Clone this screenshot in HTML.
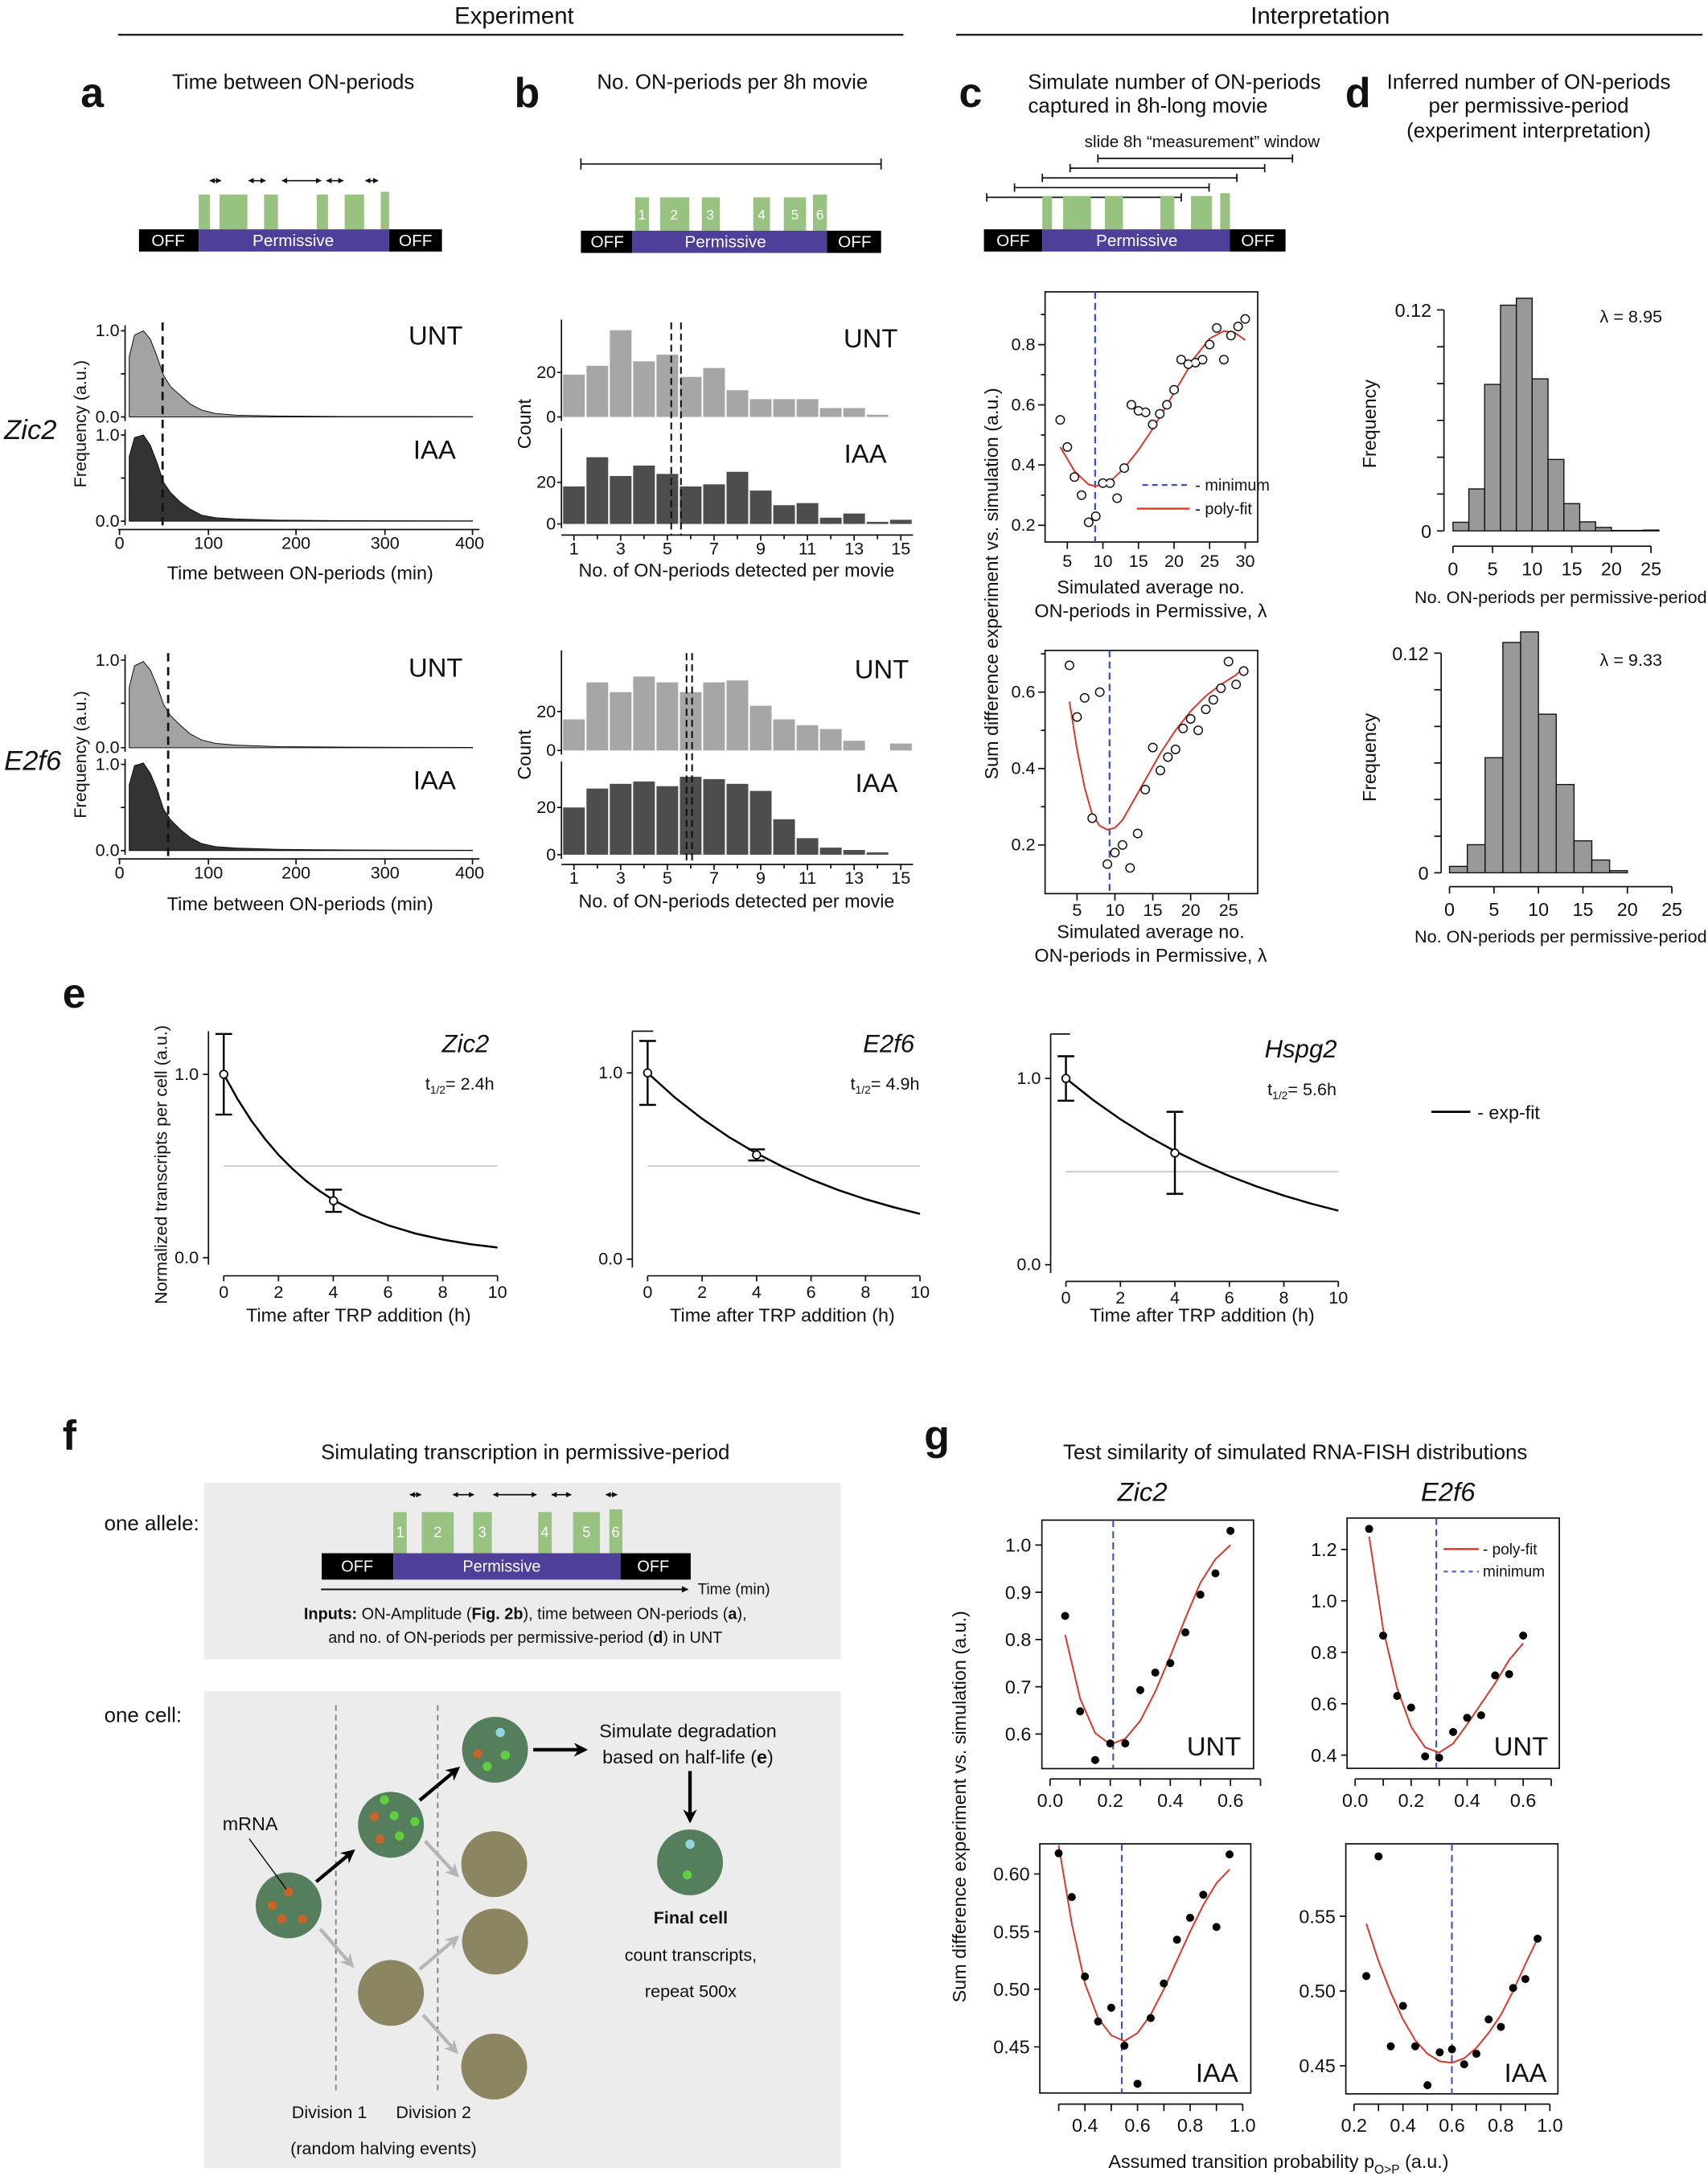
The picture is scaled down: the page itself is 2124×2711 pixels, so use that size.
<!DOCTYPE html>
<html><head><meta charset="utf-8"><style>
html,body{margin:0;padding:0;background:#fff}
svg{display:block}
text{font-family:"Liberation Sans",Arial,sans-serif;fill:#111}
.t{font-size:15px}.s{font-size:12.5px}.m{font-size:13.5px}.L{font-size:30px;font-weight:bold}
.ns{vector-effect:non-scaling-stroke}
</style></head><body>
<svg width="2124" height="2711" viewBox="0 0 1229 1568.6" preserveAspectRatio="none" xmlns="http://www.w3.org/2000/svg">
<defs>
<marker id="ah" viewBox="0 0 10 10" refX="9" refY="5" markerWidth="4" markerHeight="4" orient="auto-start-reverse"><path d="M0,0 L10,5 L0,10 z" fill="#111"/></marker>
<marker id="ab" viewBox="0 0 10 10" refX="8" refY="5" markerWidth="4" markerHeight="4" orient="auto"><path d="M0,0 L10,5 L0,10 L3,5 z" fill="#000"/></marker>
<marker id="ag" viewBox="0 0 10 10" refX="8" refY="5" markerWidth="4" markerHeight="4" orient="auto"><path d="M0,0 L10,5 L0,10 L3,5 z" fill="#b5b5b5"/></marker>
</defs>

<!-- Header -->
<text x="370" y="17" text-anchor="middle" style="font-size:17px">Experiment</text>
<line x1="85" y1="25" x2="650" y2="25" stroke="#111" stroke-width="1.3"/>
<text x="950" y="17" text-anchor="middle" style="font-size:17px">Interpretation</text>
<line x1="688" y1="25" x2="1225" y2="25" stroke="#111" stroke-width="1.3"/>

<text x="58" y="77" class="L">a</text>
<text x="370" y="77" class="L">b</text>
<text x="690" y="77" class="L">c</text>
<text x="968" y="77" class="L">d</text>
<text x="211" y="64" text-anchor="middle" class="t">Time between ON-periods</text>
<text x="527" y="64" text-anchor="middle" class="t">No. ON-periods per 8h movie</text>
<text x="845" y="64" text-anchor="middle" class="t">Simulate number of ON-periods</text>
<text x="826" y="81" text-anchor="middle" class="t">captured in 8h-long movie</text>
<text x="1100" y="64" text-anchor="middle" class="t">Inferred number of ON-periods</text>
<text x="1100" y="81" text-anchor="middle" class="t">per permissive-period</text>
<text x="1100" y="99" text-anchor="middle" class="t">(experiment interpretation)</text>

<!-- diagram a -->
<g fill="#97c27f"><rect x="143" y="140" width="8" height="25"/><rect x="158" y="140" width="20" height="25"/><rect x="190" y="140" width="10" height="25"/><rect x="228" y="140" width="8" height="25"/><rect x="248" y="140" width="14" height="25"/><rect x="274" y="138" width="6" height="27"/></g>
<rect x="100" y="165" width="43" height="16" fill="#000"/><rect x="143" y="165" width="137" height="16" fill="#4f3f9b"/><rect x="280" y="165" width="38" height="16" fill="#000"/>
<text x="121" y="177" text-anchor="middle" style="fill:#fff;font-size:12px">OFF</text>
<text x="211" y="177" text-anchor="middle" style="fill:#fff;font-size:12px">Permissive</text>
<text x="299" y="177" text-anchor="middle" style="fill:#fff;font-size:12px">OFF</text>
<g stroke="#111" stroke-width="1" marker-start="url(#ah)" marker-end="url(#ah)"><line x1="151" y1="130" x2="159" y2="130"/><line x1="179" y1="130" x2="191" y2="130"/><line x1="203" y1="130" x2="231" y2="130"/><line x1="235" y1="130" x2="247" y2="130"/><line x1="263" y1="130" x2="272" y2="130"/></g>

<!-- diagram b -->
<line x1="418" y1="118" x2="634" y2="118" stroke="#111"/><line x1="418" y1="114" x2="418" y2="122" stroke="#111"/><line x1="634" y1="114" x2="634" y2="122" stroke="#111"/>
<g fill="#97c27f"><rect x="457" y="142" width="10" height="24"/><rect x="475" y="142" width="21" height="24"/><rect x="505" y="142" width="13" height="24"/><rect x="542" y="142" width="12" height="24"/><rect x="564" y="142" width="16" height="24"/><rect x="585" y="140" width="10" height="26"/></g>
<g><text x="462" y="158" text-anchor="middle" style="fill:#fff;font-size:10px">1</text><text x="485" y="158" text-anchor="middle" style="fill:#fff;font-size:10px">2</text><text x="511" y="158" text-anchor="middle" style="fill:#fff;font-size:10px">3</text><text x="548" y="158" text-anchor="middle" style="fill:#fff;font-size:10px">4</text><text x="572" y="158" text-anchor="middle" style="fill:#fff;font-size:10px">5</text><text x="590" y="158" text-anchor="middle" style="fill:#fff;font-size:10px">6</text></g>
<rect x="418" y="166" width="37" height="16" fill="#000"/><rect x="455" y="166" width="140" height="16" fill="#4f3f9b"/><rect x="595" y="166" width="39" height="16" fill="#000"/>
<text x="437" y="178" text-anchor="middle" style="fill:#fff;font-size:12px">OFF</text>
<text x="522" y="178" text-anchor="middle" style="fill:#fff;font-size:12px">Permissive</text>
<text x="615" y="178" text-anchor="middle" style="fill:#fff;font-size:12px">OFF</text>

<!-- diagram c -->
<text x="865" y="106" text-anchor="middle" style="font-size:12px">slide 8h “measurement” window</text>
<g stroke="#111" stroke-width="1">
<path d="M790 111V117M790 114H930M930 111V117"/>
<path d="M770 118V124M770 121H910M910 118V124"/>
<path d="M750 125V131M750 128H890M890 125V131"/>
<path d="M730 132V138M730 135H870M870 132V138"/>
<path d="M710 139V145M710 142H850M850 139V145"/>
</g>
<g fill="#97c27f"><rect x="750" y="141" width="7" height="24"/><rect x="765" y="141" width="20" height="24"/><rect x="795" y="141" width="13" height="24"/><rect x="835" y="141" width="10" height="24"/><rect x="857" y="141" width="15" height="24"/><rect x="878" y="139" width="7" height="26"/></g>
<rect x="708" y="165" width="42" height="16" fill="#000"/><rect x="750" y="165" width="135" height="16" fill="#4f3f9b"/><rect x="885" y="165" width="40" height="16" fill="#000"/>
<text x="729" y="177" text-anchor="middle" style="fill:#fff;font-size:12px">OFF</text>
<text x="818" y="177" text-anchor="middle" style="fill:#fff;font-size:12px">Permissive</text>
<text x="905" y="177" text-anchor="middle" style="fill:#fff;font-size:12px">OFF</text>

<!-- panel a densities -->
<text x="3" y="316" style="font-size:20px;font-style:italic">Zic2</text>
<text x="3" y="554" style="font-size:20px;font-style:italic">E2f6</text>
<g>
<path transform="translate(86,300) scale(0.635,-62)" class="ns" fill="#a3a3a3" stroke="#111" stroke-width="1" d="M11 0L11 0.7L17 0.95L27 1L35 0.9L42.5 0.7L50 0.48L58 0.35L69 0.25L80 0.15L93 0.08L109 0.04L132 0.02L180 0.01L258 0.005L400 0.003L400 0Z"/>
<path transform="translate(86,375) scale(0.635,-62)" class="ns" fill="#333" stroke="#111" stroke-width="1" d="M11 0L11 0.75L17 0.97L27 1L35 0.88L42.5 0.68L50 0.45L58 0.33L69 0.22L80 0.14L93 0.07L109 0.04L132 0.025L180 0.012L258 0.006L400 0.003L400 0Z"/>
<path transform="translate(86,538) scale(0.635,-62)" class="ns" fill="#a3a3a3" stroke="#111" stroke-width="1" d="M11 0L11 0.7L17 0.95L27 1L35 0.9L42.5 0.72L50 0.5L58 0.37L69 0.26L80 0.16L93 0.09L109 0.05L132 0.03L180 0.012L258 0.006L400 0.003L400 0Z"/>
<path transform="translate(86,612) scale(0.635,-63)" class="ns" fill="#333" stroke="#111" stroke-width="1" d="M11 0L11 0.75L17 0.97L27 1L35 0.88L42.5 0.7L50 0.47L58 0.35L69 0.24L80 0.15L93 0.08L109 0.045L132 0.028L180 0.013L258 0.006L400 0.003L400 0Z"/>
</g>
<g stroke="#111" stroke-width="1" fill="none">
<path d="M90 234V303M87 238H90M87 269H90M87 300H90"/>
<path d="M90 309V378M87 313H90M87 344H90M87 375H90"/>
<path d="M85 381H345M86 381V385M150 381V385M213 381V385M277 381V385M340 381V385"/>
<path d="M90 471V541M87 475H90M87 506H90M87 538H90"/>
<path d="M90 546V615M87 550H90M87 581H90M87 612H90"/>
<path d="M85 618H345M86 618V622M150 618V622M213 618V622M277 618V622M340 618V622"/>
</g>
<g stroke="#111" stroke-width="1.6" stroke-dasharray="6,4"><line x1="117" y1="232" x2="117" y2="381"/><line x1="121" y1="470" x2="121" y2="618"/></g>
<g class="s" text-anchor="end">
<text x="86" y="242">1.0</text><text x="86" y="304">0.0</text><text x="86" y="317">1.0</text><text x="86" y="379">0.0</text>
<text x="86" y="479">1.0</text><text x="86" y="542">0.0</text><text x="86" y="554">1.0</text><text x="86" y="616">0.0</text>
</g>
<g class="s" text-anchor="middle">
<text x="86" y="395">0</text><text x="150" y="395">100</text><text x="213" y="395">200</text><text x="277" y="395">300</text><text x="338" y="395">400</text>
<text x="86" y="632">0</text><text x="150" y="632">100</text><text x="213" y="632">200</text><text x="277" y="632">300</text><text x="338" y="632">400</text>
</g>
<text x="216" y="417" text-anchor="middle" class="m">Time between ON-periods (min)</text>
<text x="216" y="655" text-anchor="middle" class="m">Time between ON-periods (min)</text>
<text transform="translate(62,305) rotate(-90)" text-anchor="middle" class="s">Frequency (a.u.)</text>
<text transform="translate(62,543) rotate(-90)" text-anchor="middle" class="s">Frequency (a.u.)</text>
<g style="font-size:19px" text-anchor="end"><text x="333" y="248">UNT</text><text x="328" y="330">IAA</text><text x="333" y="487">UNT</text><text x="328" y="568">IAA</text></g>

<!-- panel b hist -->
<g fill="#a6a6a6">
<rect x="405.2" y="269.6" width="15.6" height="30.4"/><rect x="422" y="263.2" width="15.6" height="36.8"/><rect x="438.8" y="237.6" width="15.6" height="62.4"/><rect x="455.6" y="260" width="15.6" height="40"/><rect x="472.4" y="255.2" width="15.6" height="44.8"/><rect x="489.2" y="271.2" width="15.6" height="28.8"/><rect x="506" y="264.8" width="15.6" height="35.2"/><rect x="522.8" y="280.8" width="15.6" height="19.2"/><rect x="539.6" y="287.2" width="15.6" height="12.8"/><rect x="556.4" y="287.2" width="15.6" height="12.8"/><rect x="573.2" y="287.2" width="15.6" height="12.8"/><rect x="590" y="293.6" width="15.6" height="6.4"/><rect x="606.8" y="293.6" width="15.6" height="6.4"/><rect x="623.6" y="298.4" width="15.6" height="1.6"/>
</g>
<g fill="#4d4d4d">
<rect x="405.2" y="350" width="15.6" height="27"/><rect x="422" y="329" width="15.6" height="48"/><rect x="438.8" y="342.5" width="15.6" height="34.5"/><rect x="455.6" y="335" width="15.6" height="42"/><rect x="472.4" y="341" width="15.6" height="36"/><rect x="489.2" y="350" width="15.6" height="27"/><rect x="506" y="348.5" width="15.6" height="28.5"/><rect x="522.8" y="339.5" width="15.6" height="37.5"/><rect x="539.6" y="353" width="15.6" height="24"/><rect x="556.4" y="363.5" width="15.6" height="13.5"/><rect x="573.2" y="362" width="15.6" height="15"/><rect x="590" y="372.5" width="15.6" height="4.5"/><rect x="606.8" y="369.5" width="15.6" height="7.5"/><rect x="623.6" y="375.5" width="15.6" height="1.5"/><rect x="640.4" y="374" width="15.6" height="3"/>
</g>
<g fill="#a6a6a6">
<rect x="405.2" y="517.6" width="15.6" height="22.4"/><rect x="422" y="491" width="15.6" height="49"/><rect x="438.8" y="498" width="15.6" height="42"/><rect x="455.6" y="486.8" width="15.6" height="53.2"/><rect x="472.4" y="491" width="15.6" height="49"/><rect x="489.2" y="498" width="15.6" height="42"/><rect x="506" y="491" width="15.6" height="49"/><rect x="522.8" y="489.6" width="15.6" height="50.4"/><rect x="539.6" y="507.8" width="15.6" height="32.2"/><rect x="556.4" y="517.6" width="15.6" height="22.4"/><rect x="573.2" y="521.8" width="15.6" height="18.2"/><rect x="590" y="524.6" width="15.6" height="15.4"/><rect x="606.8" y="533" width="15.6" height="7"/><rect x="640.4" y="535" width="15.6" height="5"/>
</g>
<g fill="#4d4d4d">
<rect x="405.2" y="581" width="15.6" height="34"/><rect x="422" y="567.4" width="15.6" height="47.6"/><rect x="438.8" y="564" width="15.6" height="51"/><rect x="455.6" y="562.3" width="15.6" height="52.7"/><rect x="472.4" y="565.7" width="15.6" height="49.3"/><rect x="489.2" y="558.9" width="15.6" height="56.1"/><rect x="506" y="560.6" width="15.6" height="54.4"/><rect x="522.8" y="564" width="15.6" height="51"/><rect x="539.6" y="569.1" width="15.6" height="45.9"/><rect x="556.4" y="589.5" width="15.6" height="25.5"/><rect x="573.2" y="603.1" width="15.6" height="11.9"/><rect x="590" y="609.9" width="15.6" height="5.1"/><rect x="606.8" y="611.6" width="15.6" height="3.4"/><rect x="623.6" y="613.3" width="15.6" height="1.7"/>
</g>
<g stroke="#111" stroke-width="1" fill="none">
<path d="M404 230V303M401 268H404M401 300H404"/>
<path d="M404 308V380M401 347H404M401 377H404"/>
<path d="M404 385H657M413 385V389M429.8 385V388M446.6 385V389M463.4 385V388M480.2 385V389M497 385V388M513.8 385V389M530.6 385V388M547.4 385V389M564.2 385V388M581 385V389M597.8 385V388M614.6 385V389M631.4 385V388M648.2 385V389"/>
<path d="M404 468V543M401 512H404M401 540H404"/>
<path d="M404 548V618M401 581H404M401 615H404"/>
<path d="M404 622H657M413 622V626M429.8 622V625M446.6 622V626M463.4 622V625M480.2 622V626M497 622V625M513.8 622V626M530.6 622V625M547.4 622V626M564.2 622V625M581 622V626M597.8 622V625M614.6 622V626M631.4 622V625M648.2 622V626"/>
</g>
<g stroke="#111" stroke-width="1.2" stroke-dasharray="5,3"><line x1="483" y1="232" x2="483" y2="385"/><line x1="490" y1="232" x2="490" y2="385"/><line x1="494" y1="470" x2="494" y2="622"/><line x1="498" y1="470" x2="498" y2="622"/></g>
<g class="s" text-anchor="end"><text x="400" y="272">20</text><text x="400" y="304">0</text><text x="400" y="351">20</text><text x="400" y="381">0</text><text x="400" y="516">20</text><text x="400" y="544">0</text><text x="400" y="585">20</text><text x="400" y="619">0</text></g>
<g class="s" text-anchor="middle">
<text x="413" y="399">1</text><text x="446.6" y="399">3</text><text x="480.2" y="399">5</text><text x="513.8" y="399">7</text><text x="547.4" y="399">9</text><text x="581" y="399">11</text><text x="614.6" y="399">13</text><text x="648.2" y="399">15</text>
<text x="413" y="636">1</text><text x="446.6" y="636">3</text><text x="480.2" y="636">5</text><text x="513.8" y="636">7</text><text x="547.4" y="636">9</text><text x="581" y="636">11</text><text x="614.6" y="636">13</text><text x="648.2" y="636">15</text>
</g>
<text x="530" y="415" text-anchor="middle" class="m">No. of ON-periods detected per movie</text>
<text x="530" y="653" text-anchor="middle" class="m">No. of ON-periods detected per movie</text>
<text transform="translate(382,305) rotate(-90)" text-anchor="middle" class="m">Count</text>
<text transform="translate(382,543) rotate(-90)" text-anchor="middle" class="m">Count</text>
<g style="font-size:19px" text-anchor="end"><text x="646" y="250">UNT</text><text x="638" y="333">IAA</text><text x="654" y="488">UNT</text><text x="646" y="570">IAA</text></g>

<!-- panel c -->
<text transform="translate(718,420) rotate(-90)" text-anchor="middle" class="m">Sum difference experiment vs. simulation (a.u.)</text>
<rect x="752" y="210" width="153" height="180" fill="none" stroke="#111"/>
<path d="M752 378H747M752 356.3H749M752 334.6H747M752 313H749M752 291.3H747M752 269.6H749M752 248H747M752 226.3H749M768 390V395M793.6 390V395M819.2 390V395M844.8 390V395M870.4 390V395M896 390V395" stroke="#111"/>
<g class="s" text-anchor="end"><text x="745" y="382">0.2</text><text x="745" y="338.6">0.4</text><text x="745" y="295.3">0.6</text><text x="745" y="252">0.8</text></g>
<g class="s" text-anchor="middle"><text x="768" y="408">5</text><text x="793.6" y="408">10</text><text x="819.2" y="408">15</text><text x="844.8" y="408">20</text><text x="870.4" y="408">25</text><text x="896" y="408">30</text></g>
<line x1="788" y1="210" x2="788" y2="390" stroke="#3b4fc4" stroke-width="1.3" stroke-dasharray="5,3"/>
<g transform="translate(742.4,421.3) scale(5.12,-216.7)">
<path class="ns" fill="none" stroke="#d6392b" stroke-width="2" d="M4 0.46L6 0.38L8 0.335L9 0.33L11 0.345L13 0.39L15 0.45L17 0.52L19 0.6L21 0.68L23 0.76L25 0.82L27 0.845L28.5 0.84L30 0.815"/>
<path class="ns" fill="none" stroke="#111" stroke-width="12" stroke-linecap="round" d="M4 .55h0M5 .46h0M6 .36h0M7 .3h0M8 .21h0M9 .23h0M10 .34h0M11 .34h0M12 .29h0M13 .39h0M14 .6h0M15 .58h0M16 .575h0M17 .535h0M18 .57h0M19 .6h0M20 .65h0M21 .75h0M22 .735h0M23 .74h0M24 .75h0M25 .8h0M26 .855h0M27 .75h0M28 .83h0M29 .86h0M30 .885h0"/>
<path class="ns" fill="none" stroke="#fff" stroke-width="9" stroke-linecap="round" d="M4 .55h0M5 .46h0M6 .36h0M7 .3h0M8 .21h0M9 .23h0M10 .34h0M11 .34h0M12 .29h0M13 .39h0M14 .6h0M15 .58h0M16 .575h0M17 .535h0M18 .57h0M19 .6h0M20 .65h0M21 .75h0M22 .735h0M23 .74h0M24 .75h0M25 .8h0M26 .855h0M27 .75h0M28 .83h0M29 .86h0M30 .885h0"/>
</g>
<line x1="822" y1="349" x2="856" y2="349" stroke="#3b4fc4" stroke-width="1.3" stroke-dasharray="4,3"/>
<line x1="818" y1="366" x2="856" y2="366" stroke="#d6392b" stroke-width="1.4"/>
<text x="860" y="353" style="font-size:11.5px">- minimum</text>
<text x="860" y="370" style="font-size:11.5px">- poly-fit</text>
<text x="828" y="427" text-anchor="middle" class="m">Simulated average no.</text>
<text x="828" y="444" text-anchor="middle" class="m">ON-periods in Permissive, λ</text>

<rect x="752" y="468" width="153" height="175" fill="none" stroke="#111"/>
<path d="M752 608H747M752 580.5H749M752 553H747M752 525.5H749M752 498H747M752 470.5H749M775 643V648M802.25 643V648M829.5 643V648M856.75 643V648M884 643V648" stroke="#111"/>
<g class="s" text-anchor="end"><text x="745" y="612">0.2</text><text x="745" y="557">0.4</text><text x="745" y="502">0.6</text></g>
<g class="s" text-anchor="middle"><text x="775" y="659">5</text><text x="802.25" y="659">10</text><text x="829.5" y="659">15</text><text x="856.75" y="659">20</text><text x="884" y="659">25</text></g>
<line x1="798.4" y1="468" x2="798.4" y2="643" stroke="#3b4fc4" stroke-width="1.3" stroke-dasharray="5,3"/>
<g transform="translate(747.75,663) scale(5.45,-275)">
<path class="ns" fill="none" stroke="#d6392b" stroke-width="2" d="M4 0.575L5 0.45L6 0.35L7 0.28L8 0.25L9 0.24L10 0.245L11 0.265L12 0.3L14 0.37L16 0.44L18 0.5L20 0.55L22 0.59L24 0.62L26 0.645L27 0.665"/>
<path class="ns" fill="none" stroke="#111" stroke-width="12" stroke-linecap="round" d="M4 .67h0M5 .535h0M6 .585h0M7 .27h0M8 .6h0M9 .15h0M10 .18h0M11 .2h0M12 .14h0M13 .23h0M14 .345h0M15 .455h0M16 .395h0M17 .43h0M18 .45h0M19 .505h0M20 .53h0M21 .5h0M22 .555h0M23 .58h0M24 .61h0M25 .68h0M26 .62h0M27 .655h0"/>
<path class="ns" fill="none" stroke="#fff" stroke-width="9" stroke-linecap="round" d="M4 .67h0M5 .535h0M6 .585h0M7 .27h0M8 .6h0M9 .15h0M10 .18h0M11 .2h0M12 .14h0M13 .23h0M14 .345h0M15 .455h0M16 .395h0M17 .43h0M18 .45h0M19 .505h0M20 .53h0M21 .5h0M22 .555h0M23 .58h0M24 .61h0M25 .68h0M26 .62h0M27 .655h0"/>
</g>
<text x="828" y="675" text-anchor="middle" class="m">Simulated average no.</text>
<text x="828" y="692" text-anchor="middle" class="m">ON-periods in Permissive, λ</text>

<!-- panel d -->
<g fill="#999" stroke="#111" stroke-width="0.8">
<rect x="1045.5" y="375.8" width="11.4" height="6.2"/><rect x="1056.9" y="351.8" width="11.4" height="30.2"/><rect x="1068.3" y="276.6" width="11.4" height="105.4"/><rect x="1079.7" y="219.6" width="11.4" height="162.4"/><rect x="1091.1" y="214.6" width="11.4" height="167.4"/><rect x="1102.5" y="272.6" width="11.4" height="109.4"/><rect x="1113.9" y="330.6" width="11.4" height="51.4"/><rect x="1125.3" y="362.4" width="11.4" height="19.6"/><rect x="1136.7" y="375.5" width="11.4" height="6.5"/><rect x="1148.1" y="379.5" width="11.4" height="2.5"/><rect x="1159.5" y="381.7" width="11.4" height="0.3"/><rect x="1170.9" y="381.7" width="11.4" height="0.3"/><rect x="1182.3" y="381.4" width="11.4" height="0.6"/>
<rect x="1043" y="623.4" width="12.8" height="4.6"/><rect x="1055.8" y="607.8" width="12.8" height="20.2"/><rect x="1068.6" y="545.2" width="12.8" height="82.8"/><rect x="1081.4" y="462.3" width="12.8" height="165.7"/><rect x="1094.2" y="454.7" width="12.8" height="173.3"/><rect x="1107" y="513.9" width="12.8" height="114.1"/><rect x="1119.8" y="564.5" width="12.8" height="63.5"/><rect x="1132.6" y="605" width="12.8" height="23"/><rect x="1145.4" y="618.8" width="12.8" height="9.2"/><rect x="1158.2" y="626.5" width="12.8" height="1.5"/>
</g>
<g stroke="#111" stroke-width="1" fill="none">
<path d="M1039 382V223M1034 382H1039M1034 355.5H1039M1034 329H1039M1034 302.5H1039M1034 276H1039M1034 249.5H1039M1034 223H1039"/>
<path d="M1045.5 393H1188M1045.5 393V398M1074 393V398M1102.5 393V398M1131 393V398M1159.5 393V398M1188 393V398"/>
<path d="M1037 628V470M1032 628H1037M1032 601.7H1037M1032 575.3H1037M1032 549H1037M1032 522.7H1037M1032 496.3H1037M1032 470H1037"/>
<path d="M1043 638H1203M1043 638V643M1075 638V643M1107 638V643M1139 638V643M1171 638V643M1203 638V643"/>
</g>
<g class="m" text-anchor="end"><text x="1030" y="228">0.12</text><text x="1030" y="387">0</text><text x="1028" y="475">0.12</text><text x="1028" y="633">0</text></g>
<g class="m" text-anchor="middle">
<text x="1045.5" y="414">0</text><text x="1074" y="414">5</text><text x="1102.5" y="414">10</text><text x="1131" y="414">15</text><text x="1159.5" y="414">20</text><text x="1188" y="414">25</text>
<text x="1043" y="659">0</text><text x="1075" y="659">5</text><text x="1107" y="659">10</text><text x="1139" y="659">15</text><text x="1171" y="659">20</text><text x="1203" y="659">25</text>
</g>
<text x="1123" y="434" text-anchor="middle" style="font-size:12.5px">No. ON-periods per permissive-period</text>
<text x="1123" y="678" text-anchor="middle" style="font-size:12.5px">No. ON-periods per permissive-period</text>
<text transform="translate(990,305) rotate(-90)" text-anchor="middle" class="m">Frequency</text>
<text transform="translate(990,545) rotate(-90)" text-anchor="middle" class="m">Frequency</text>
<text x="1196" y="232" text-anchor="end" class="s">λ = 8.95</text>
<text x="1196" y="479" text-anchor="end" class="s">λ = 9.33</text>

<!-- panel e -->
<text x="45" y="725" class="L">e</text>
<text transform="translate(120,838) rotate(-90)" text-anchor="middle" class="s">Normalized  transcripts per cell (a.u.)</text>
<g stroke="#111" stroke-width="1" fill="none">
<path d="M150 742V910M146 773H150M146 905H150"/>
<path d="M161 918H358M161 918V922M200.4 918V922M239.8 918V922M279.2 918V922M318.6 918V922M358 918V922"/>
<path d="M455 742V912M451 772H455M451 906H455M455 742H470"/>
<path d="M466 918H662M466 918V922M505.2 918V922M544.4 918V922M583.6 918V922M622.8 918V922M662 918V922"/>
<path d="M756 744V916M752 776H756M752 910H756M756 744H770"/>
<path d="M767 922H963M767 922V926M806.2 922V926M845.4 922V926M884.6 922V926M923.8 922V926M963 922V926"/>
</g>
<g stroke="#c8c8c8" stroke-width="1"><line x1="161" y1="839" x2="358" y2="839"/><line x1="466" y1="839" x2="662" y2="839"/><line x1="767" y1="843" x2="963" y2="843"/></g>
<path transform="translate(161,905) scale(19.7,-132)" class="ns" fill="none" stroke="#000" stroke-width="2.5" d="M0 1L0.5 .866L1 .749L1.5 .649L2 .561L2.5 .486L3 .42L3.5 .364L4 .315L5 .236L6 .177L7 .132L8 .099L9 .074L10 .056"/>
<path transform="translate(466,906) scale(19.6,-134)" class="ns" fill="none" stroke="#000" stroke-width="2.5" d="M0 1L1 .868L2 .754L3 .654L4 .568L5 .493L6 .428L7 .371L8 .322L9 .28L10 .243"/>
<path transform="translate(767,910) scale(19.6,-134)" class="ns" fill="none" stroke="#000" stroke-width="2.5" d="M0 1L1 .884L2 .781L3 .69L4 .61L5 .539L6 .476L7 .42L8 .371L9 .328L10 .29"/>
<g stroke="#000" stroke-width="1.4" fill="none">
<path d="M161 744V802M155 744H167M155 802H167M240 856V872M234 856H246M234 872H246"/>
<path d="M466 749V795M460 749H472M460 795H472M544.4 827V835M538.4 827H550.4M538.4 835H550.4"/>
<path d="M767 760V792M761 760H773M761 792H773M845.4 800V859M839.4 800H851.4M839.4 859H851.4"/>
</g>
<g fill="#fff" stroke="#000" stroke-width="1"><circle cx="161" cy="773" r="2.8"/><circle cx="240" cy="864" r="2.8"/><circle cx="466" cy="772" r="2.8"/><circle cx="544.4" cy="831" r="2.8"/><circle cx="767" cy="776" r="2.8"/><circle cx="845.4" cy="829.6" r="2.8"/></g>
<g class="s" text-anchor="end"><text x="143" y="777">1.0</text><text x="143" y="909">0.0</text><text x="448" y="776">1.0</text><text x="448" y="910">0.0</text><text x="749" y="780">1.0</text><text x="749" y="914">0.0</text></g>
<g class="s" text-anchor="middle">
<text x="161" y="934">0</text><text x="200.4" y="934">2</text><text x="239.8" y="934">4</text><text x="279.2" y="934">6</text><text x="318.6" y="934">8</text><text x="358" y="934">10</text>
<text x="466" y="934">0</text><text x="505.2" y="934">2</text><text x="544.4" y="934">4</text><text x="583.6" y="934">6</text><text x="622.8" y="934">8</text><text x="662" y="934">10</text>
<text x="767" y="938">0</text><text x="806.2" y="938">2</text><text x="845.4" y="938">4</text><text x="884.6" y="938">6</text><text x="923.8" y="938">8</text><text x="963" y="938">10</text>
</g>
<text x="258" y="951" text-anchor="middle" class="m">Time after TRP addition (h)</text>
<text x="563" y="951" text-anchor="middle" class="m">Time after TRP addition (h)</text>
<text x="865" y="951" text-anchor="middle" class="m">Time after TRP addition (h)</text>
<text x="352" y="757" text-anchor="end" style="font-size:18px;font-style:italic">Zic2</text>
<text x="658" y="757" text-anchor="end" style="font-size:18px;font-style:italic">E2f6</text>
<text x="962" y="761" text-anchor="end" style="font-size:18px;font-style:italic">Hspg2</text>
<text x="306" y="784" class="s">t<tspan style="font-size:8px" dy="3">1/2</tspan><tspan dy="-3">= 2.4h</tspan></text>
<text x="612" y="784" class="s">t<tspan style="font-size:8px" dy="3">1/2</tspan><tspan dy="-3">= 4.9h</tspan></text>
<text x="912" y="788" class="s">t<tspan style="font-size:8px" dy="3">1/2</tspan><tspan dy="-3">= 5.6h</tspan></text>
<line x1="1030" y1="800" x2="1058" y2="800" stroke="#000" stroke-width="1.6"/>
<text x="1063" y="805" class="m">- exp-fit</text>

<!-- panel f -->
<text x="45" y="1043" class="L">f</text>
<text x="378" y="1050" text-anchor="middle" class="t">Simulating transcription in permissive-period</text>
<rect x="147" y="1067" width="458" height="127" fill="#ececec"/>
<rect x="147" y="1217" width="458" height="343" fill="#ececec"/>
<text x="75" y="1101" class="t">one allele:</text>
<text x="75" y="1239" class="t">one cell:</text>
<g fill="#97c27f"><rect x="283" y="1088" width="9.6" height="30"/><rect x="303.5" y="1088" width="23" height="30"/><rect x="340.5" y="1088" width="13.4" height="30"/><rect x="387.3" y="1088" width="9.7" height="30"/><rect x="412.4" y="1088" width="19.3" height="30"/><rect x="438.5" y="1086" width="9.4" height="32"/></g>
<g text-anchor="middle"><text x="288" y="1106" style="fill:#fff;font-size:10.5px">1</text><text x="315" y="1106" style="fill:#fff;font-size:10.5px">2</text><text x="347" y="1106" style="fill:#fff;font-size:10.5px">3</text><text x="392" y="1106" style="fill:#fff;font-size:10.5px">4</text><text x="422" y="1106" style="fill:#fff;font-size:10.5px">5</text><text x="443" y="1106" style="fill:#fff;font-size:10.5px">6</text></g>
<rect x="231.5" y="1117.6" width="51.5" height="19" fill="#000"/><rect x="283" y="1117.6" width="163.5" height="19" fill="#4f3f9b"/><rect x="446.5" y="1117.6" width="50.5" height="19" fill="#000"/>
<text x="257" y="1131" text-anchor="middle" style="fill:#fff;font-size:11.5px">OFF</text>
<text x="361" y="1131" text-anchor="middle" style="fill:#fff;font-size:11.5px">Permissive</text>
<text x="470" y="1131" text-anchor="middle" style="fill:#fff;font-size:11.5px">OFF</text>
<line x1="231" y1="1143.6" x2="495" y2="1143.6" stroke="#111" stroke-width="1.2" marker-end="url(#ah)"/>
<text x="502" y="1147" style="font-size:11px">Time (min)</text>
<g stroke="#111" stroke-width="1" marker-start="url(#ah)" marker-end="url(#ah)"><line x1="295" y1="1075.5" x2="303" y2="1075.5"/><line x1="326" y1="1075.5" x2="341" y2="1075.5"/><line x1="355" y1="1075.5" x2="386" y2="1075.5"/><line x1="397" y1="1075.5" x2="411" y2="1075.5"/><line x1="436" y1="1075.5" x2="444" y2="1075.5"/></g>
<text x="378" y="1165" text-anchor="middle" style="font-size:11.5px"><tspan font-weight="bold">Inputs:</tspan> ON-Amplitude (<tspan font-weight="bold">Fig. 2b</tspan>), time between ON-periods (<tspan font-weight="bold">a</tspan>),</text>
<text x="378" y="1182" text-anchor="middle" style="font-size:11.5px">and no. of ON-periods per permissive-period (<tspan font-weight="bold">d</tspan>) in UNT</text>

<g stroke="#777" stroke-width="1" stroke-dasharray="4,3"><line x1="241.7" y1="1227" x2="241.7" y2="1507"/><line x1="315" y1="1227" x2="315" y2="1507"/></g>
<g fill="#8c8562"><circle cx="355.6" cy="1341.3" r="23.7"/><circle cx="356.2" cy="1397" r="23.7"/><circle cx="281.3" cy="1434" r="23.7"/><circle cx="355.6" cy="1487" r="23.7"/></g>
<g fill="#557f5c"><circle cx="207.7" cy="1371" r="23.7"/><circle cx="281.3" cy="1313" r="23.7"/><circle cx="356.2" cy="1259" r="23.7"/><circle cx="496.5" cy="1340" r="23.7"/></g>
<g fill="#c8642a"><circle cx="207.7" cy="1361.3" r="3.3"/><circle cx="195.9" cy="1371" r="3.3"/><circle cx="202.7" cy="1380.8" r="3.3"/><circle cx="217.7" cy="1380.8" r="3.3"/><circle cx="269.5" cy="1307.1" r="3.3"/><circle cx="273.3" cy="1323.4" r="3.3"/><circle cx="343.8" cy="1261.9" r="3.3"/></g>
<g fill="#5fcf3f"><circle cx="276.6" cy="1295.1" r="3.3"/><circle cx="283.7" cy="1306.5" r="3.3"/><circle cx="298.5" cy="1310.7" r="3.3"/><circle cx="287.5" cy="1321.1" r="3.3"/><circle cx="363.6" cy="1262.9" r="3.3"/><circle cx="350.6" cy="1271" r="3.3"/><circle cx="494.5" cy="1349.1" r="3.3"/></g>
<g fill="#8fd6e0"><circle cx="360" cy="1246.6" r="3.3"/><circle cx="496.5" cy="1327" r="3.3"/></g>
<g stroke="#000" stroke-width="2.5" marker-end="url(#ab)"><line x1="227.5" y1="1354" x2="254" y2="1332"/><line x1="302" y1="1295.4" x2="329.5" y2="1272.5"/><line x1="383.7" y1="1259" x2="421" y2="1259"/><line x1="496.5" y1="1274.3" x2="496.5" y2="1310"/></g>
<g stroke="#b5b5b5" stroke-width="2.5" marker-end="url(#ag)"><line x1="230.4" y1="1388" x2="253.5" y2="1414.5"/><line x1="305.9" y1="1324.8" x2="329" y2="1349.5"/><line x1="302" y1="1417" x2="329" y2="1394"/><line x1="304.4" y1="1449.8" x2="328.5" y2="1476.5"/></g>
<line x1="179.3" y1="1323" x2="206.2" y2="1359.5" stroke="#000" stroke-width="0.8"/>
<text x="180" y="1317" text-anchor="middle" class="m">mRNA</text>
<text x="495" y="1250" text-anchor="middle" class="m">Simulate degradation</text>
<text x="495" y="1269" text-anchor="middle" class="m">based on half-life (<tspan font-weight="bold">e</tspan>)</text>
<text x="497" y="1384" text-anchor="middle" class="s" font-weight="bold">Final cell</text>
<text x="497" y="1411" text-anchor="middle" class="s">count transcripts,</text>
<text x="497" y="1437" text-anchor="middle" class="s">repeat 500x</text>
<text x="237" y="1524" text-anchor="middle" class="s">Division 1</text>
<text x="312" y="1524" text-anchor="middle" class="s">Division 2</text>
<text x="276" y="1550" text-anchor="middle" class="s">(random halving events)</text>

<!-- panel g -->
<text x="665" y="1043" class="L">g</text>
<text x="932" y="1050" text-anchor="middle" class="t">Test similarity of simulated RNA-FISH distributions</text>
<text x="822" y="1080" text-anchor="middle" style="font-size:19px;font-style:italic">Zic2</text>
<text x="1042" y="1080" text-anchor="middle" style="font-size:19px;font-style:italic">E2f6</text>
<text transform="translate(695,1300) rotate(-90)" text-anchor="middle" class="m">Sum difference experiment vs. simulation (a.u.)</text>
<text x="920" y="1560" text-anchor="middle" class="m">Assumed transition probability p<tspan style="font-size:9px" dy="4">O&gt;P</tspan><tspan dy="-4"> (a.u.)</tspan></text>

<g fill="none" stroke="#111" stroke-width="1">
<rect x="749.7" y="1093.8" width="152.3" height="178.8"/>
<path d="M749.7 1111.7H745M749.7 1145.7H745M749.7 1179.7H745M749.7 1213.7H745M749.7 1247.7H745M755.6 1280H907M755.6 1280V1285M777.2 1280V1285M798.9 1280V1285M820.5 1280V1285M842.1 1280V1285M863.8 1280V1285M885.4 1280V1285M907 1280V1285"/>
<rect x="969.3" y="1092.3" width="152.7" height="180.1"/>
<path d="M969.3 1114.9H965M969.3 1151.9H965M969.3 1188.9H965M969.3 1225.9H965M969.3 1262.9H965M975.1 1280H1116.2M975.1 1280V1285M995.3 1280V1285M1015.4 1280V1285M1035.6 1280V1285M1055.7 1280V1285M1075.9 1280V1285M1096 1280V1285M1116.2 1280V1285"/>
<rect x="748.2" y="1326.7" width="151.8" height="179.3"/>
<path d="M748.2 1348.4H744M748.2 1389.9H744M748.2 1431.3H744M748.2 1472.8H744M761.8 1514H894.2M761.8 1514V1519M780.7 1514V1519M799.6 1514V1519M818.5 1514V1519M837.5 1514V1519M856.4 1514V1519M875.3 1514V1519M894.2 1514V1519"/>
<rect x="968.4" y="1326.7" width="152.6" height="179.9"/>
<path d="M968.4 1378.8H964M968.4 1432.6H964M968.4 1486.4H964M974.3 1514H1115.2M974.3 1514V1519M991.9 1514V1519M1009.5 1514V1519M1027.1 1514V1519M1044.7 1514V1519M1062.3 1514V1519M1079.9 1514V1519M1097.6 1514V1519M1115.2 1514V1519"/>
</g>
<g stroke="#3b4fc4" stroke-width="1.2" stroke-dasharray="5,3">
<line x1="801" y1="1093.8" x2="801" y2="1272.6"/><line x1="1033.5" y1="1092.3" x2="1033.5" y2="1272.4"/>
<line x1="807.2" y1="1326.7" x2="807.2" y2="1506"/><line x1="1044.7" y1="1326.7" x2="1044.7" y2="1506.6"/>
</g>
<g transform="translate(755.6,1451.7) scale(216.3,-340)">
<path class="ns" fill="none" stroke="#d6392b" stroke-width="2" d="M.05 .81L.1 .675L.15 .602L.2 .578L.25 .59L.3 .628L.35 .69L.4 .765L.45 .845L.5 .92L.55 .97L.6 1"/>
<path class="ns" fill="none" stroke="#000" stroke-width="10" stroke-linecap="round" d="M.05 .85h0M.1 .648h0M.15 .545h0M.2 .58h0M.25 .58h0M.3 .693h0M.35 .73h0M.4 .75h0M.45 .815h0M.5 .895h0M.55 .94h0M.6 1.03h0"/>
</g>
<g transform="translate(975.1,1336.9) scale(201.5,-185)">
<path class="ns" fill="none" stroke="#d6392b" stroke-width="2" d="M.05 1.25L.1 .89L.15 .66L.2 .51L.25 .43L.3 .41L.35 .445L.4 .52L.45 .6L.5 .68L.55 .77L.6 .835"/>
<path class="ns" fill="none" stroke="#000" stroke-width="10" stroke-linecap="round" d="M.05 1.28h0M.1 .865h0M.15 .63h0M.2 .585h0M.25 .395h0M.3 .39h0M.35 .49h0M.4 .545h0M.45 .555h0M.5 .71h0M.55 .715h0M.6 .865h0"/>
</g>
<g transform="translate(705,1846) scale(189.2,-829.3)">
<path class="ns" fill="none" stroke="#d6392b" stroke-width="2" d="M.3 .625L.35 .557L.4 .505L.45 .475L.5 .46L.55 .455L.6 .462L.65 .478L.7 .5L.75 .525L.8 .55L.85 .573L.9 .592L.95 .604"/>
<path class="ns" fill="none" stroke="#000" stroke-width="10" stroke-linecap="round" d="M.3 .618h0M.35 .58h0M.4 .511h0M.45 .472h0M.5 .484h0M.55 .451h0M.6 .418h0M.65 .475h0M.7 .505h0M.75 .543h0M.8 .562h0M.85 .582h0M.9 .554h0M.95 .617h0"/>
</g>
<g transform="translate(939.1,1970.6) scale(176.1,-1076)">
<path class="ns" fill="none" stroke="#d6392b" stroke-width="2" d="M.25 .545L.3 .52L.35 .499L.4 .481L.45 .467L.5 .458L.55 .453L.6 .452L.65 .455L.7 .462L.75 .472L.8 .484L.85 .5L.9 .518L.95 .535"/>
<path class="ns" fill="none" stroke="#000" stroke-width="10" stroke-linecap="round" d="M.25 .51h0M.3 .59h0M.35 .463h0M.4 .49h0M.45 .463h0M.5 .437h0M.55 .459h0M.6 .461h0M.65 .451h0M.7 .458h0M.75 .481h0M.8 .476h0M.85 .502h0M.9 .508h0M.95 .535h0"/>
</g>
<line x1="1038.8" y1="1114.6" x2="1064" y2="1114.6" stroke="#d6392b" stroke-width="1.4"/>
<line x1="1038.8" y1="1130.8" x2="1064" y2="1130.8" stroke="#3b4fc4" stroke-width="1.2" stroke-dasharray="3,3"/>
<text x="1067" y="1118.5" style="font-size:11px">- poly-fit</text>
<text x="1067" y="1134.5" style="font-size:11px">minimum</text>
<g class="m" text-anchor="end">
<text x="742" y="1116.5">1.0</text><text x="742" y="1150.5">0.9</text><text x="742" y="1184.5">0.8</text><text x="742" y="1218.5">0.7</text><text x="742" y="1252.5">0.6</text>
<text x="962" y="1119.7">1.2</text><text x="962" y="1156.7">1.0</text><text x="962" y="1193.7">0.8</text><text x="962" y="1230.7">0.6</text><text x="962" y="1267.7">0.4</text>
<text x="741" y="1353.2">0.60</text><text x="741" y="1394.7">0.55</text><text x="741" y="1436.1">0.50</text><text x="741" y="1477.6">0.45</text>
<text x="961" y="1383.6">0.55</text><text x="961" y="1437.4">0.50</text><text x="961" y="1491.2">0.45</text>
</g>
<g class="m" text-anchor="middle">
<text x="755.6" y="1300">0.0</text><text x="798.9" y="1300">0.2</text><text x="842.1" y="1300">0.4</text><text x="885.4" y="1300">0.6</text>
<text x="975.1" y="1300">0.0</text><text x="1015.4" y="1300">0.2</text><text x="1055.7" y="1300">0.4</text><text x="1096" y="1300">0.6</text>
<text x="780.7" y="1534">0.4</text><text x="818.5" y="1534">0.6</text><text x="856.4" y="1534">0.8</text><text x="894.2" y="1534">1.0</text>
<text x="974.3" y="1534">0.2</text><text x="1009.5" y="1534">0.4</text><text x="1044.7" y="1534">0.6</text><text x="1079.9" y="1534">0.8</text><text x="1115.2" y="1534">1.0</text>
</g>
<g style="font-size:19px" text-anchor="end"><text x="893" y="1263">UNT</text><text x="1114" y="1263">UNT</text><text x="891" y="1498">IAA</text><text x="1113" y="1498">IAA</text></g>
</svg>
</body></html>
